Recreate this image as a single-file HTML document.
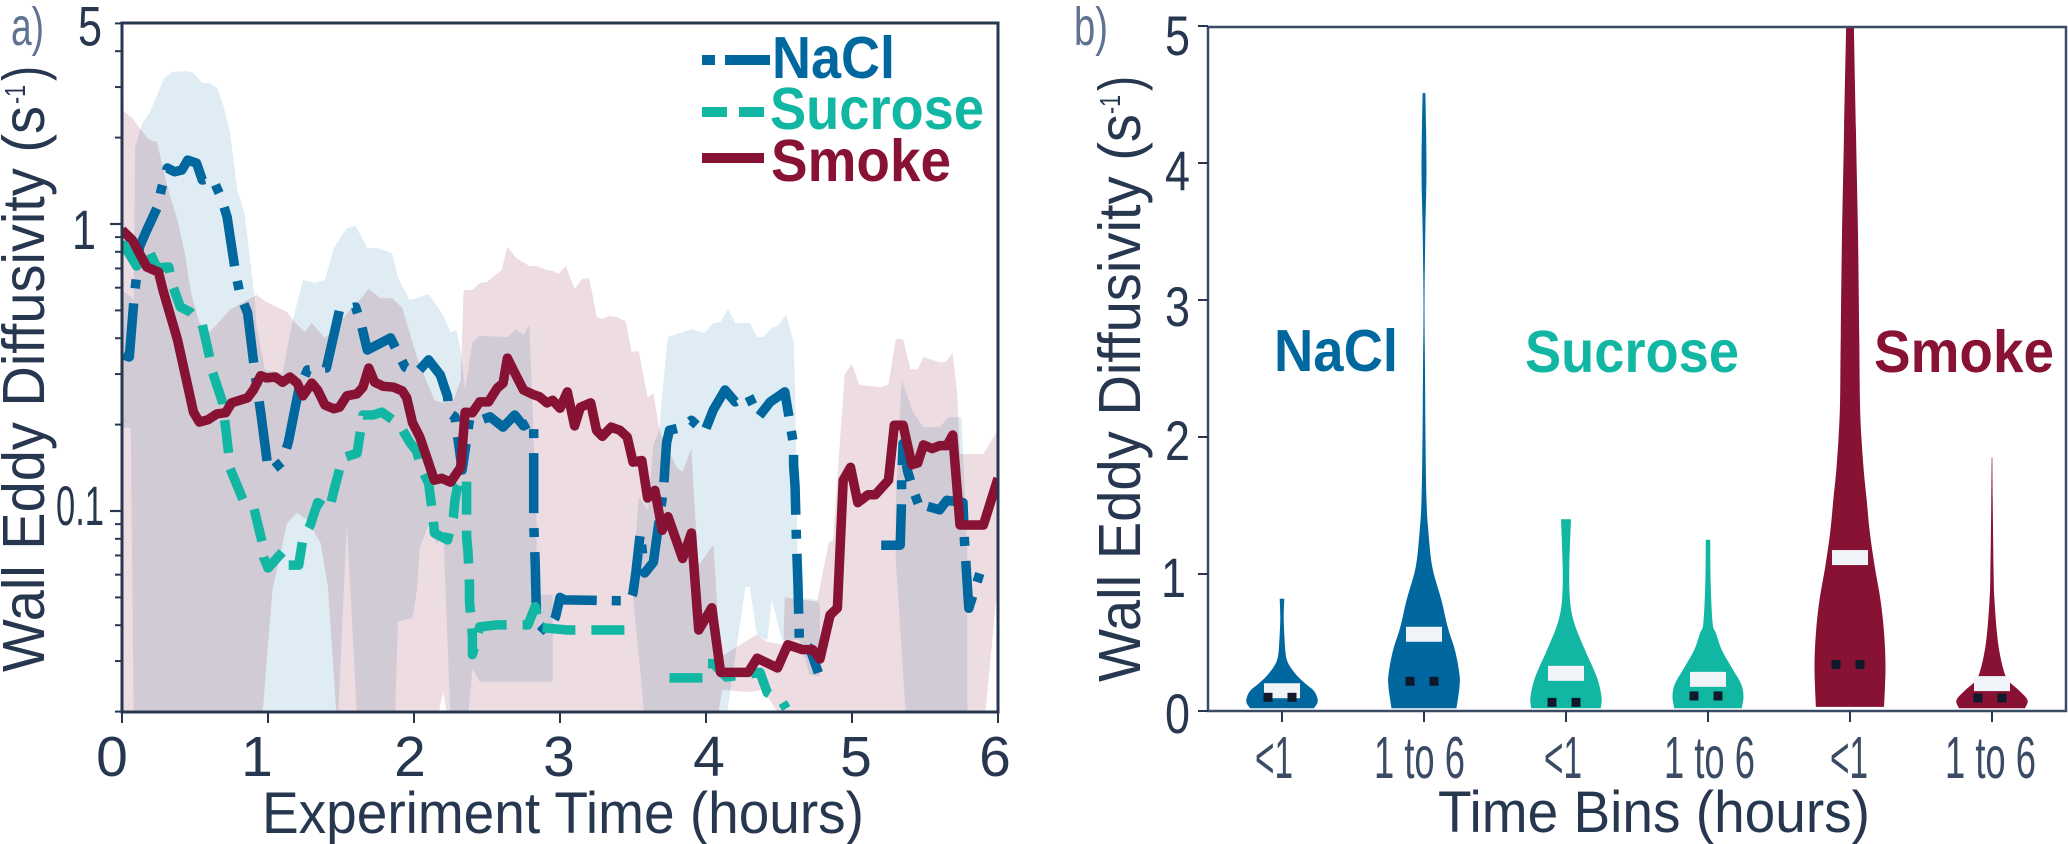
<!DOCTYPE html>
<html lang="en">
<head>
<meta charset="utf-8">
<title>Wall Eddy Diffusivity</title>
<style>
html,body{margin:0;padding:0;background:#fff;}
svg{display:block;}
text{font-family:"Liberation Sans",sans-serif;fill:#26374f;}
.bold{font-weight:700;}
</style>
</head>
<body>
<svg id="figure" xmlns="http://www.w3.org/2000/svg" width="2068" height="844" viewBox="0 0 2068 844">
  <defs>
    <clipPath id="clip-a"><rect x="122" y="23" width="876" height="689"/></clipPath>
    <clipPath id="clip-b"><rect x="1208" y="27" width="858" height="684"/></clipPath>
  </defs>
  <g id="panel-a">
    <g id="bands-a" clip-path="url(#clip-a)"></g>
    <g id="lines-a" clip-path="url(#clip-a)"></g>
    <rect x="122" y="23" width="876" height="689" fill="none" stroke="#26374f" stroke-width="3"/>
    <g id="ticks-a"></g>
    <text x="11" y="45" font-size="54" textLength="33" lengthAdjust="spacingAndGlyphs" style="fill:#5f7290">a)</text>
    <text transform="translate(44,672) rotate(-90)" font-size="59" textLength="566" lengthAdjust="spacingAndGlyphs">Wall Eddy Diffusivity (s</text>
    <text transform="translate(25,104) rotate(-90)" font-size="29" textLength="19" lengthAdjust="spacingAndGlyphs">-1</text>
    <text transform="translate(44,81) rotate(-90)" font-size="59" textLength="15" lengthAdjust="spacingAndGlyphs">)</text>
    <text x="262" y="833" font-size="58" textLength="602" lengthAdjust="spacingAndGlyphs">Experiment Time (hours)</text>
    <g>
      <line x1="702" y1="60" x2="770" y2="60" stroke="#00679f" stroke-width="10" stroke-dasharray="13 10 45 10"/>
      <line x1="702" y1="112" x2="765" y2="112" stroke="#11b7a3" stroke-width="10" stroke-dasharray="25 12"/>
      <line x1="702" y1="158" x2="764" y2="158" stroke="#871233" stroke-width="10"/>
      <text class="bold" x="772" y="78" font-size="59" textLength="123" lengthAdjust="spacingAndGlyphs" style="fill:#00679f">NaCl</text>
      <text class="bold" x="770" y="129" font-size="59" textLength="214" lengthAdjust="spacingAndGlyphs" style="fill:#11b7a3">Sucrose</text>
      <text class="bold" x="771" y="181" font-size="59" textLength="180" lengthAdjust="spacingAndGlyphs" style="fill:#871233">Smoke</text>
    </g>
  </g>
  <g id="panel-b">
    <g id="violins-b" clip-path="url(#clip-b)"></g>
    <rect x="1208" y="27" width="858" height="684" fill="none" stroke="#3a4c65" stroke-width="2.5"/>
    <g id="ticks-b"></g>
    <text x="1074" y="45" font-size="54" textLength="34" lengthAdjust="spacingAndGlyphs" style="fill:#5f7290">b)</text>
    <text transform="translate(1140,682) rotate(-90)" font-size="59" textLength="568" lengthAdjust="spacingAndGlyphs">Wall Eddy Diffusivity (s</text>
    <text transform="translate(1120,114) rotate(-90)" font-size="29" textLength="19" lengthAdjust="spacingAndGlyphs">-1</text>
    <text transform="translate(1140,91) rotate(-90)" font-size="59" textLength="15" lengthAdjust="spacingAndGlyphs">)</text>
    <text x="1438" y="832" font-size="58" textLength="432" lengthAdjust="spacingAndGlyphs">Time Bins (hours)</text>
    <text class="bold" x="1274" y="371" font-size="59" textLength="124" lengthAdjust="spacingAndGlyphs" style="fill:#00679f">NaCl</text>
    <text class="bold" x="1525" y="372" font-size="59" textLength="214" lengthAdjust="spacingAndGlyphs" style="fill:#11b7a3">Sucrose</text>
    <text class="bold" x="1874" y="372" font-size="59" textLength="180" lengthAdjust="spacingAndGlyphs" style="fill:#871233">Smoke</text>
  </g>
</svg>
<script>
// ---------- Panel a data: hours and diffusivity (1/s), null = gap ----------
const naclTimes = [.01,.05,.08,.12,.17,.24,.27,.31,.36,.41,.45,.51,.55,.62,.68,.72,.78,.81,.86,.91,.95,1.00,1.03,1.10,1.14,1.21,1.27,1.40,1.49,1.60,1.64,1.68,1.84,1.88,1.94,2.02,2.10,2.18,2.23,2.24,2.28,2.33,2.36,2.38,2.42,2.52,2.61,2.69,2.75,2.82,2.82,2.82,2.82,2.83,2.84,2.91,2.97,3.00,3.03,3.48,3.50,3.52,3.55,3.58,3.64,3.71,3.72,3.73,3.75,3.84,3.90,3.99,4.05,4.13,4.20,4.29,4.36,4.44,4.54,4.60,4.60,4.61,4.62,4.63,4.64,4.71,4.77,null,5.20,5.33,5.34,5.34,5.35,5.38,5.42,5.47,5.51,5.60,5.65,5.76,5.77,5.80,5.84,5.90];
const naclValues = [.350,.344,.531,.832,.953,1.137,1.324,1.567,1.52,1.542,1.67,1.63,1.423,1.446,1.232,1.058,.664,.566,.49,.303,.221,.141,.139,.149,.174,.264,.31,.315,.502,.514,.445,.364,.401,.364,.317,.303,.336,.298,.25,.22,.213,.139,.177,.208,.204,.213,.196,.216,.198,.207,.171,.147,.0908,.0659,.041,.0379,.0428,.05,.049,.0486,.0518,.0612,.0838,.0608,.0663,.121,.145,.173,.191,.196,.207,.188,.225,.264,.24,.254,.213,.24,.26,.17,.145,.121,.0773,.0551,.0348,.0333,.0273,null,.076,.076,.109,.128,.172,.138,.118,.101,.104,.101,.109,.107,.0793,.0458,.0531,.0664];

const sucroseTimes = [0,.10,.19,.24,.32,.35,.40,.47,.55,.60,.62,.69,.73,.74,.83,.90,.96,.97,1.00,1.10,1.13,1.21,1.24,1.29,1.34,1.42,1.45,1.51,1.61,1.65,1.72,1.78,1.90,1.97,2.02,2.05,2.10,2.13,2.14,2.23,2.27,2.28,2.30,2.36,2.36,2.36,2.37,2.38,2.38,2.40,2.40,2.45,2.57,2.78,2.83,2.86,3.05,3.27,3.47,null,3.75,3.98,4.01,4.05,4.14,4.37,4.42,4.52,4.55];
const sucroseValues = [.865,.714,.799,.703,.708,.603,.514,.493,.445,.344,.305,.238,.159,.141,.109,.104,.0778,.069,.0633,.072,.0648,.0648,.0805,.0894,.107,.101,.117,.153,.159,.216,.216,.221,.2,.174,.161,.141,.125,.0953,.0838,.0793,.0953,.109,.123,.131,.106,.0811,.072,.0552,.0482,.0369,.0316,.0395,.0401,.0401,.0464,.0393,.0385,.0385,.0385,null,.0262,.0262,.0294,.0294,.0264,.0274,.0233,.0217,.0205];

const smokeTimes = [0,.07,.17,.25,.28,.38,.43,.49,.53,.59,.65,.71,.75,.86,.90,.95,.99,1.05,1.10,1.15,1.20,1.24,1.30,1.34,1.39,1.45,1.49,1.54,1.61,1.65,1.69,1.73,1.79,1.86,1.92,1.95,1.99,2.04,2.14,2.19,2.25,2.32,2.35,2.40,2.45,2.51,2.57,2.61,2.64,2.69,2.75,2.82,2.86,2.91,2.95,3.00,3.05,3.10,3.14,3.21,3.25,3.29,3.35,3.41,3.46,3.50,3.56,3.60,3.65,3.70,3.74,3.84,3.90,3.95,4.04,4.10,4.29,4.35,4.49,4.56,4.66,4.73,4.78,4.85,4.90,4.94,4.99,5.04,5.11,5.16,5.25,5.29,5.35,5.41,5.45,5.49,5.55,5.60,5.65,5.69,5.74,5.90,6.00];
const smokeValues = [.953,.88,.708,.68,.589,.395,.303,.221,.204,.208,.218,.22,.238,.248,.264,.296,.291,.293,.281,.293,.279,.252,.279,.264,.234,.227,.23,.252,.256,.27,.315,.281,.272,.27,.262,.248,.203,.181,.128,.13,.126,.142,.221,.22,.24,.24,.268,.279,.341,.303,.264,.254,.25,.238,.243,.228,.26,.198,.23,.238,.191,.182,.196,.191,.181,.148,.15,.111,.118,.0857,.0955,.0683,.0838,.0385,.046,.0274,.0274,.0307,.0284,.0342,.0329,.0329,.0305,.0434,.0459,.128,.142,.107,.114,.114,.128,.199,.199,.145,.147,.17,.165,.169,.169,.184,.0894,.0894,.13];

const naclUpperTimes = [0,.06,.08,.09,.14,.19,.29,.35,.45,.49,.55,.60,.65,.69,.74,.79,.84,.91,.92,.98,1.10,1.17,1.24,1.32,1.39,1.45,1.54,1.60,1.68,1.75,1.85,1.89,1.97,2.10,2.20,2.25,2.29,2.32,2.35,2.40,2.45,2.64,2.70,2.75,2.79,2.81,2.84,2.84,2.95,null,3.49,3.54,3.60,3.64,3.68,3.70,3.74,3.84,3.90,3.99,4.05,4.10,4.15,4.20,4.30,4.35,4.39,4.45,4.49,4.55,4.60,4.61,4.63,4.64,4.76,4.78,null,5.30,5.34,5.42,5.49,5.60,5.66,5.75,5.79];
const naclUpperValues = [.589,.557,.543,1.85,2.25,2.44,3.23,3.39,3.41,3.36,3.10,3.10,2.98,2.64,2.08,1.31,1.09,.543,.445,.31,.303,.463,.638,.623,.638,.825,.968,.984,.825,.825,.792,.653,.543,.57,.482,.42,.427,.364,.264,.388,.407,.404,.43,.41,.445,.243,.0906,.051,.051,null,.053,.112,.101,.17,.192,.254,.404,.42,.43,.417,.452,.455,.506,.452,.452,.404,.404,.434,.441,.482,.388,.264,.053,.05,.049,.047,null,.109,.286,.22,.196,.196,.212,.212,.0732];
const naclLowerTimes = [0,.06,.08,1.48,1.54,1.61,1.87,1.89,1.99,2.02,2.04,2.10,2.16,2.20,2.25,2.37,2.40,2.45,2.87,2.95,null,3.49,3.58,4.14,4.27,4.30,4.35,4.42,4.45,4.52,4.64,4.71,4.78,null,5.30,5.37,5.79];
const naclLowerValues = [.195,.195,.019,.019,.0906,.019,.019,.0411,.0424,.053,.0749,.0894,.0762,.0858,.019,.019,.0283,.0254,.0254,.0254,null,.0574,.019,.019,.0544,.0544,.0364,.0356,.049,.0356,.0356,.0269,.0265,null,.0675,.019,.019];

const smokeUpperTimes = [0,.07,.12,.19,.24,.31,.38,.43,.47,.48,.53,.60,.74,.92,.99,1.13,1.17,1.25,1.30,1.39,1.45,1.56,1.61,1.69,1.77,1.85,1.92,2.02,2.14,2.20,2.27,2.32,2.34,2.40,2.45,2.50,2.60,2.64,2.70,2.79,2.84,2.91,2.95,2.99,3.04,3.10,3.15,3.20,3.23,3.25,3.29,3.34,3.39,3.45,3.49,3.54,3.60,3.64,3.68,3.74,3.80,3.84,3.90,3.92,3.95,4.05,4.10,4.34,4.42,4.53,4.54,4.76,4.84,4.87,4.95,5.00,5.05,5.20,5.25,5.30,5.35,5.40,5.45,5.49,5.60,5.64,5.69,5.72,5.74,5.90,6.00];
const smokeUpperValues = [2.50,2.34,2.16,1.96,1.93,1.35,1.03,.792,.589,.557,.452,.42,.502,.566,.535,.494,.463,.42,.452,.401,.427,.502,.53,.594,.552,.552,.51,.344,.243,.238,.243,.286,.589,.589,.623,.628,.691,.832,.761,.714,.714,.691,.686,.67,.714,.594,.643,.648,.543,.474,.467,.478,.474,.459,.358,.361,.248,.258,.192,.163,.142,.137,.165,.107,.0648,.0762,.031,.0369,.035,.0342,.05,.0483,.0774,.0791,.30,.325,.275,.27,.277,.397,.397,.312,.312,.344,.33,.33,.355,.258,.158,.158,.192];
const smokeLowerTimes = [0,.96,1.03,1.13,1.20,1.27,1.36,1.41,1.47,2.16,2.20,2.23,4.08,4.11,4.29,4.39,4.52,5.91,6.00];
const smokeLowerValues = [.019,.019,.053,.0906,.0985,.0929,.0774,.0544,.019,.019,.0234,.019,.019,.0238,.0234,.0238,.019,.019,.0575];

const timeTicks = [0,1,2,3,4,5,6];
const logMajorTicks = [1,0.1];
const logMinorTicks = [.02,.03,.04,.05,.06,.07,.08,.09,.2,.3,.4,.5,.6,.7,.8,.9,2,3,4,5];
const logTickLabels = ['5','1','0.1'];
const logTickLabelValues = [5,1,0.1];

// ---------- Panel b data ----------
const binLabels = ['<1','1 to 6','<1','1 to 6','<1','1 to 6'];
const binGroups = ['nacl','nacl','sucrose','sucrose','smoke','smoke'];
const linearTicks = [0,1,2,3,4,5];
const violinLevels = [
  [.82,.68,.56,.44,.37,.32,.25,.20,.15,.10,.06,.02],
  [4.51,3.97,3.49,3.0,2.5,2.0,1.54,1.30,1.05,.81,.61,.445,.277,.175,.02],
  [1.40,1.05,.81,.64,.445,.25,.105,.02],
  [1.25,.93,.64,.567,.445,.324,.20,.105,.02],
  [5.0,4.22,3.49,2.76,2.27,2.0,1.75,1.54,1.30,1.05,.81,.567,.32,.03],
  [1.85,1.54,.98,.81,.567,.40,.26,.21,.153,.08,.02]
];
const violinDensity = [
  [.066,.047,.066,.094,.14,.24,.45,.66,.89,.99,1.0,.9],
  [.04,.07,.037,.014,.028,.042,.07,.127,.234,.49,.67,.87,.995,1.0,.915],
  [.14,.093,.113,.234,.535,.865,1.0,.98],
  [.062,.076,.132,.225,.39,.65,.93,1.0,.95],
  [.11,.168,.224,.26,.28,.32,.39,.47,.56,.70,.86,.96,1.0,.96],
  [.008,.02,.048,.07,.14,.234,.374,.5,.75,1.0,.93]
];
const binMeans = [.148,.56,.275,.231,1.12,.20];
const binMedians = [.10,.217,.063,.11,.34,.095];

// ---------- Scales ----------
const COLORS = {nacl:'#00679f', sucrose:'#11b7a3', smoke:'#871233'};
const NS = 'http://www.w3.org/2000/svg';
function xA(h){ return 122 + h * 146; }
function yA(v){ return 224 - Math.log10(v) * 287; }
function xB(i){ return 1282 + i * 142; }
function yB(v){ return 711 - v * 137; }

function node(tag, parent, attrs){
  const el = document.createElementNS(NS, tag);
  for (const k in attrs) el.setAttribute(k, attrs[k]);
  parent.appendChild(el);
  return el;
}
function segments(times, values){
  const out = [[]];
  times.forEach((t, i) => {
    if (t === null) out.push([]);
    else out[out.length - 1].push([xA(t), yA(values[i])]);
  });
  return out;
}
function pathOf(points){
  return points.map((p, i) => (i ? 'L' : 'M') + p[0].toFixed(1) + ' ' + p[1].toFixed(1)).join('');
}
// Smooth curve through outline points (Catmull-Rom as cubic Beziers)
function curveThrough(pts){
  let d = '';
  for (let i = 0; i < pts.length - 1; i++) {
    const p0 = pts[Math.max(i - 1, 0)], p1 = pts[i], p2 = pts[i + 1], p3 = pts[Math.min(i + 2, pts.length - 1)];
    const c1x = p1[0] + (p2[0] - p0[0]) / 6, c1y = p1[1] + (p2[1] - p0[1]) / 6;
    const c2x = p2[0] - (p3[0] - p1[0]) / 6, c2y = p2[1] - (p3[1] - p1[1]) / 6;
    d += 'C' + c1x.toFixed(1) + ' ' + c1y.toFixed(1) + ' ' + c2x.toFixed(1) + ' ' + c2y.toFixed(1) + ' ' + p2[0].toFixed(1) + ' ' + p2[1].toFixed(1);
  }
  return d;
}

// ---------- Panel a marks ----------
const bandsA = document.getElementById('bands-a');
const linesA = document.getElementById('lines-a');
const ticksA = document.getElementById('ticks-a');

function drawBand(name, color, opacity, upT, upV, loT, loV){
  const ups = segments(upT, upV);
  const los = segments(loT, loV);
  ups.forEach((u, i) => {
    const poly = u.concat(los[i].slice().reverse());
    const el = node('path', bandsA, {d: pathOf(poly) + 'Z', fill: color, 'fill-opacity': opacity});
    
    
  });
}
drawBand('nacl-band', COLORS.nacl, 0.125, naclUpperTimes, naclUpperValues, naclLowerTimes, naclLowerValues);
drawBand('smoke-band', COLORS.smoke, 0.15, smokeUpperTimes, smokeUpperValues, smokeLowerTimes, smokeLowerValues);

function drawLine(name, color, dash, times, values){
  const d = segments(times, values).map(pathOf).join('');
  const el = node('path', linesA, {d: d, fill: 'none', stroke: color, 'stroke-width': 9.5, 'stroke-linejoin': 'round', 'stroke-dasharray': dash});
  
  
}
drawLine('nacl-line', COLORS.nacl, '60 15 9 15', naclTimes, naclValues);
drawLine('sucrose-line', COLORS.sucrose, '33 16', sucroseTimes, sucroseValues);
drawLine('smoke-line', COLORS.smoke, 'none', smokeTimes, smokeValues);

function label(parent, name, str, x, y, size, opts){
  const o = opts || {};
  const el = node('text', parent, {x: x, y: y, 'font-size': size});
  el.textContent = str;
  
  
  if (o.anchor) el.setAttribute('text-anchor', o.anchor);
  if (o.len) { el.setAttribute('textLength', o.len); el.setAttribute('lengthAdjust', 'spacingAndGlyphs'); }
  if (o.fill) el.style.fill = o.fill;
  return el;
}

const timeLabelNudge = [-10,-11,-4,-1,3,4,-3];
timeTicks.forEach((t, i) => {
  const tick = node('line', ticksA, {x1: xA(t), x2: xA(t), y1: 712, y2: 723, stroke: '#26374f', 'stroke-width': 2});
  
  
  label(ticksA, 'x-tick-label', String(t), xA(t) + timeLabelNudge[i], 776, 57, {anchor: 'middle'});
});
logMajorTicks.forEach(v => {
  const tick = node('line', ticksA, {x1: 110, x2: 122, y1: yA(v), y2: yA(v), stroke: '#26374f', 'stroke-width': 2.2});
  
  
});
logMinorTicks.forEach(v => {
  const tick = node('line', ticksA, {x1: 115, x2: 122, y1: yA(v), y2: yA(v), stroke: '#26374f', 'stroke-width': 2});
  
  
});
const logLabelX = [78,72,56];
const logLabelDy = [22,25,14];
const logLabelLen = [24,24,48];
logTickLabels.forEach((s, i) => {
  label(ticksA, 'y-tick-label', s, logLabelX[i], yA(logTickLabelValues[i]) + logLabelDy[i], 56, {len: logLabelLen[i]});
});

// ---------- Panel b marks ----------
const violinsB = document.getElementById('violins-b');
const ticksB = document.getElementById('ticks-b');
const VIOLIN_HALF = 35.5;

binLabels.forEach((s, i) => {
  const cx = xB(i);
  const left = violinLevels[i].map((v, k) => [cx - violinDensity[i][k] * VIOLIN_HALF, yB(v)]);
  const right = violinLevels[i].map((v, k) => [cx + violinDensity[i][k] * VIOLIN_HALF, yB(v)]).reverse();
  const outline = 'M' + left[0][0].toFixed(1) + ' ' + left[0][1].toFixed(1) + curveThrough(left) +
    'L' + right[0][0].toFixed(1) + ' ' + right[0][1].toFixed(1) + curveThrough(right) + 'Z';
  const body = node('path', violinsB, {d: outline, fill: COLORS[binGroups[i]]});
  
  

  const mean = node('rect', violinsB, {x: cx - 18, y: yB(binMeans[i]) - 7.5, width: 36, height: 15, fill: '#f0f3f8'});
  
  

  [-18.5, 5.5].forEach(dx => {
    const dot = node('rect', violinsB, {x: cx + dx, y: yB(binMedians[i]) - 4.5, width: 9, height: 9, fill: '#10182c'});
    
    
  });

  const tick = node('line', ticksB, {x1: cx, x2: cx, y1: 711, y2: 722, stroke: '#26374f', 'stroke-width': 2});
  
  
});

const binLabelStart = [1255,1374,1544,1664,1830,1945];
binLabels.forEach((s, i) => {
  label(ticksB, 'bin-tick-label', s, binLabelStart[i], 778, 59, {len: s.length > 2 ? 91 : 38, fill: '#3a4c65'});
});

const linearLabelBaseline = [733,597,460,326,190,55];
linearTicks.forEach((v, i) => {
  const tick = node('line', ticksB, {x1: 1198, x2: 1208, y1: yB(v), y2: yB(v), stroke: '#26374f', 'stroke-width': 2});
  
  
  label(ticksB, 'y-tick-label', String(v), v === 1 ? 1161 : 1165, linearLabelBaseline[i], 56, {len: 25});
});
</script>
</body>
</html>
